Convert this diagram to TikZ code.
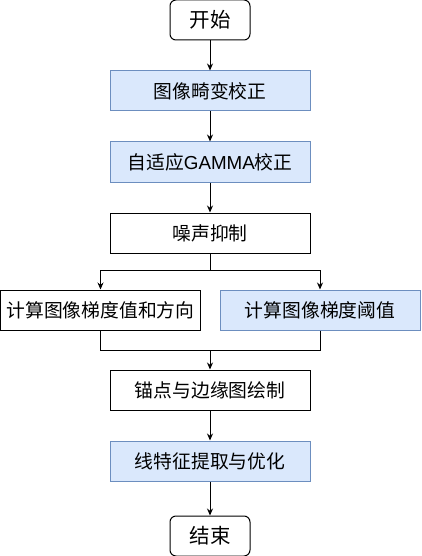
\documentclass[tikz,border=0pt]{standalone}
\usepackage{fontspec}
\setmainfont{Liberation Sans}
\newfontfamily\cjk{Noto Sans CJK SC}
\usetikzlibrary{positioning,arrows.meta}

\definecolor{StepBlue}{HTML}{DAE8FC}
\definecolor{StepEdge}{HTML}{6C8EBF}

\tikzset{
  stepbox/.style={draw, minimum width=200pt, minimum height=40pt, inner sep=0pt,
    font=\cjk\fontsize{18.8}{21}\selectfont},
  bluebox/.style={stepbox, fill=StepBlue, draw=StepEdge},
  termbox/.style={draw, rounded corners=6pt, minimum width=80pt, minimum height=40pt,
    inner sep=0pt, font=\cjk\fontsize{20.5}{23}\selectfont},
  flow/.style={-{Stealth[length=7pt,width=6pt]}}
}

\begin{document}
\begin{tikzpicture}[x=1pt, y=1pt, line width=1pt, node distance=30pt]
        \useasboundingbox (0,0) rectangle (421,-556);

        \node[termbox] (start) at (210,-20) {开始};
        \node[bluebox, below=of start] (undist) {图像畸变校正};
        \node[bluebox, below=of undist] (gamma) {自适应{\rmfamily GAMMA}校正};
        \node[stepbox, below=of gamma] (noise) {噪声抑制};

        \coordinate (split) at (210,-270);
        \node[stepbox] (grad) at (100.5,-310) {计算图像梯度值和方向};
        \node[bluebox] (thresh) at (320,-310) {计算图像梯度阈值};
        \coordinate (join) at (210,-350);

        \node[stepbox] (anchor) at (210,-390) {锚点与边缘图绘制};
        \node[bluebox, below=of anchor] (lines) {线特征提取与优化};
        \node[termbox, below=34pt of lines] (stop) {结束};

        \draw[flow] (start) -- (undist);
        \draw[flow] (undist) -- (gamma);
        \draw[flow] (gamma) -- (noise);
        \draw (noise) -- (split);
        \draw[flow] (split) -| (grad);
        \draw[flow] (split) -| (thresh);
        \draw (grad) |- (join);
        \draw (thresh) |- (join);
        \draw[flow] (join) -- (anchor);
        \draw[flow] (anchor) -- (lines);
        \draw[flow] (lines) -- (stop);
        % \draw[help lines] (0,0) grid[step=10] (421,-556);
\end{tikzpicture}
\end{document}
